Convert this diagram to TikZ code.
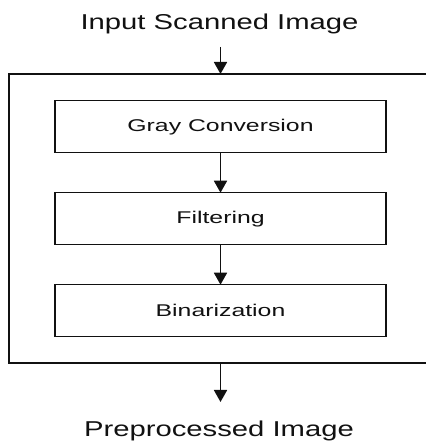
\documentclass[tikz,border=0pt]{standalone}
\usepackage{fontspec}
\setmainfont{Liberation Sans}
\usetikzlibrary{arrows.meta}
\newcommand{\widetxt}[2]{\scalebox{#1}[1]{#2}}
\definecolor{ink}{HTML}{111111}
\tikzset{
  bigtext/.style={font=\fontsize{21.5}{26}\selectfont, text=ink, inner sep=0pt},
  stepbox/.style={draw=ink, line width=1.6pt, minimum width=331pt, minimum height=52pt,
    inner sep=0pt, outer sep=0pt, font=\fontsize{17}{20}\selectfont, text=ink},
  framebox/.style={draw=none, minimum width=423pt, minimum height=289pt,
    inner sep=0pt, outer sep=0pt},
  frameline/.style={draw=ink, line width=1.8pt},
  flow/.style={draw=ink, line width=1.8pt, -{Triangle[width=13pt,length=12pt]}}
}
\begin{document}
\begin{tikzpicture}[x=1pt,y=1pt]
\fill[white] (0,0) rectangle (425,443);
\useasboundingbox (0,0) rectangle (425,443);
\node[bigtext, anchor=base] (input) at (219.5,413) {\widetxt{1.36}{Input Scanned Image}};
\coordinate (instart) at (220.5,396);
\node[framebox] (frame) at (220.5,224.5) {};
\draw[frameline] (426,369) -- (9,369) -- (9,80) -- (426,80);
\node[stepbox] (gray) at (220.5,316.3) {\widetxt{1.46}{Gray Conversion}};
\node[stepbox] (filt) at (220.5,224.3) {\widetxt{1.46}{Filtering}};
\node[stepbox] (bin) at (220.5,132.3) {\widetxt{1.46}{Binarization}};
\coordinate (outend) at (220.5,41);
\node[bigtext, anchor=base] (output) at (219,6) {\widetxt{1.36}{Preprocessed Image}};
\draw[flow] (instart) -- (frame.north);
\draw[flow] (gray.south) -- (filt.north);
\draw[flow] (filt.south) -- (bin.north);
\draw[flow] (frame.south) -- (outend);
\end{tikzpicture}
\end{document}
